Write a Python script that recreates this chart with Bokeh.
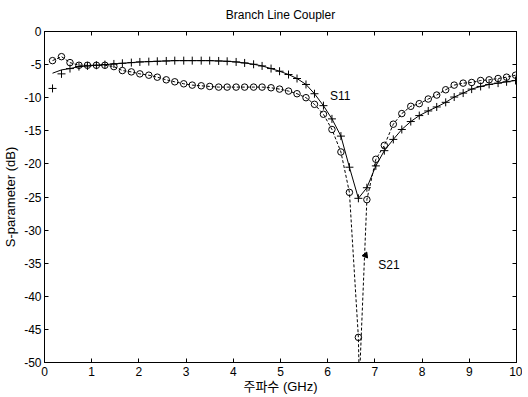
from bokeh.plotting import figure
from bokeh.models import LinearAxis, FixedTicker, Range1d, Label
from bokeh.embed import file_html
from bokeh.resources import INLINE

# ---- data ----
freq = [0.17, 0.36, 0.54, 0.73, 0.91, 1.10, 1.28, 1.47, 1.65, 1.84,
        2.02, 2.21, 2.39, 2.58, 2.76, 2.95, 3.13, 3.32, 3.50, 3.69,
        3.87, 4.06, 4.24, 4.43, 4.61, 4.80, 4.98, 5.17, 5.35, 5.54,
        5.72, 5.91, 6.09, 6.28, 6.46, 6.65, 6.83, 7.02, 7.20, 7.39,
        7.57, 7.76, 7.94, 8.13, 8.31, 8.50, 8.68, 8.87, 9.05, 9.24,
        9.42, 9.61, 9.79, 9.98]

# plus markers (solid curve)
s_plus = [-8.6, -6.4, -5.6, -5.3, -5.2, -5.1, -5.0, -4.9, -4.8, -4.7,
          -4.6, -4.55, -4.5, -4.45, -4.4, -4.4, -4.4, -4.4, -4.4, -4.45,
          -4.5, -4.6, -4.75, -4.95, -5.2, -5.6, -6.0, -6.5, -7.1, -8.0,
          -9.4, -11.2, -13.2, -15.8, -20.5, -25.2, -23.6, -20.3, -18.0, -16.3,
          -14.8, -13.6, -12.7, -12.0, -11.4, -10.7, -9.9, -9.3, -8.7, -8.3,
          -8.0, -7.8, -7.6, -7.4]

# circle markers (dashed curve)
s_circ = [-4.4, -3.8, -4.7, -5.1, -5.1, -5.1, -5.1, -5.3, -5.9, -6.1,
          -6.4, -6.6, -6.9, -7.3, -7.6, -7.9, -8.1, -8.2, -8.3, -8.4,
          -8.4, -8.4, -8.4, -8.4, -8.4, -8.5, -8.7, -9.0, -9.4, -10.0,
          -11.0, -12.5, -14.8, -18.2, -24.3, -46.2, -25.4, -19.3, -17.2, -14.0,
          -12.4, -11.3, -10.9, -10.2, -9.6, -8.8, -8.1, -7.8, -7.7, -7.4,
          -7.3, -7.1, -6.9, -6.6]

# solid line starts above the first two plus markers
plus_line_start = [-6.3, -5.8]
# the dashed line dips below the axis just after the deepest circle
dip_freq = 6.67
dip_db = -53.0

x_ticks = [0, 1, 2, 3, 4, 5, 6, 7, 8, 9, 10]
x_tick_labels = ["0", "1", "2", "3", "4", "5", "6", "7", "8", "9", "10"]
y_ticks = [0, -5, -10, -15, -20, -25, -30, -35, -40, -45, -50]
y_tick_labels = ["0", "-5", "-10", "-15", "-20", "-25", "-30", "-35", "-40", "-45", "-50"]

title_text = "Branch Line Coupler"
x_label = "주파수 (GHz)"
y_label = "S-parameter (dB)"
label_s11 = "S11"
label_s21 = "S21"
s11_pos = (6.05, -9.7)
s21_pos = (7.07, -35.2)
arrow_pos = (6.8, -33.8)

FONT = "'Liberation Sans', 'Noto Sans CJK KR', sans-serif"

p = figure(frame_width=472, frame_height=331,
           x_range=Range1d(0, 10), y_range=Range1d(-50, 0),
           output_backend="svg", toolbar_location=None,
           min_border_left=44, min_border_right=6,
           min_border_top=31, min_border_bottom=34)

p.title.text = title_text
p.title.align = "center"
p.title.vertical_align = "top"
p.title.text_font = FONT
p.title.text_font_size = "12px"
p.title.text_font_style = "normal"
p.title.text_color = "black"
p.title.standoff = 15

p.xgrid.visible = False
p.ygrid.visible = False
p.outline_line_color = "black"
p.outline_line_width = 1
p.background_fill_color = "white"
p.border_fill_color = "white"

for ax in (p.xaxis[0], p.yaxis[0]):
    ax.major_tick_in = 4
    ax.major_tick_out = 0
    ax.minor_tick_in = 0
    ax.minor_tick_out = 0
    ax.axis_line_color = "black"
    ax.major_label_text_font = FONT
    ax.major_label_text_font_size = "12px"
    ax.major_label_text_color = "black"
    ax.axis_label_text_font = FONT
    ax.axis_label_text_font_size = "13px"
    ax.axis_label_text_font_style = "normal"
    ax.axis_label_text_color = "black"

p.xaxis[0].ticker = FixedTicker(ticks=x_ticks)
p.xaxis[0].major_label_overrides = dict(zip(x_ticks, x_tick_labels))
p.xaxis[0].axis_label = x_label
p.xaxis[0].major_label_standoff = 4
p.xaxis[0].axis_label_standoff = 0

p.yaxis[0].ticker = FixedTicker(ticks=y_ticks)
p.yaxis[0].major_label_overrides = dict(zip(y_ticks, y_tick_labels))
p.yaxis[0].axis_label = y_label
p.yaxis[0].major_label_standoff = 3
p.yaxis[0].axis_label_standoff = 3

# unlabeled top / right axes with inward ticks
for loc, ticks in (("right", y_ticks), ("above", x_ticks)):
    ax = LinearAxis(ticker=FixedTicker(ticks=ticks))
    ax.major_tick_in = 4
    ax.major_tick_out = 0
    ax.minor_tick_in = 0
    ax.minor_tick_out = 0
    ax.major_label_overrides = {t: "" for t in ticks}
    ax.major_label_standoff = 0
    ax.axis_line_color = "black"
    p.add_layout(ax, loc)

# solid line + plus markers
solid_y = plus_line_start + s_plus[len(plus_line_start):]
p.line(freq, solid_y, line_color="black", line_width=1)
p.scatter(freq, s_plus, marker="cross", size=8, line_color="black", line_width=1)

# dashed line + circle markers
idx = s_circ.index(min(s_circ)) + 1
dash_x = freq[:idx] + [dip_freq] + freq[idx:]
dash_y = s_circ[:idx] + [dip_db] + s_circ[idx:]
p.line(dash_x, dash_y, line_color="black", line_width=1, line_dash="3 2")
p.scatter(freq, s_circ, marker="circle", size=6.5, line_color="black",
          fill_color=None, line_width=1)

# annotations
p.add_layout(Label(x=s11_pos[0], y=s11_pos[1], text=label_s11, text_align="left",
                   text_baseline="middle", text_font=FONT, text_font_size="12px",
                   text_color="black"))
p.add_layout(Label(x=s21_pos[0], y=s21_pos[1], text=label_s21, text_align="left",
                   text_baseline="middle", text_font=FONT, text_font_size="12px",
                   text_color="black"))
p.scatter([arrow_pos[0]], [arrow_pos[1]], marker="triangle", size=6, angle=1.7,
          fill_color="black", line_color="black")

open("out.html", "w").write(file_html(p, INLINE))
